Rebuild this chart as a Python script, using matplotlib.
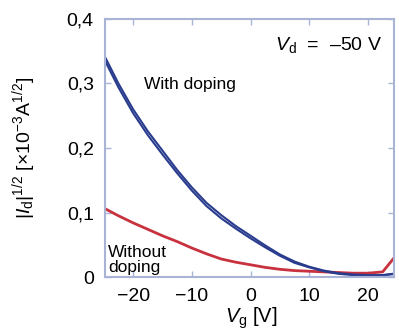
import matplotlib
matplotlib.use('Agg')
import matplotlib.pyplot as plt

plt.rcParams['font.family'] = ['Liberation Sans', 'DejaVu Sans']
plt.rcParams['mathtext.fontset'] = 'custom'
plt.rcParams['mathtext.rm'] = 'Liberation Sans'
plt.rcParams['mathtext.it'] = 'Liberation Sans:italic'

# gate voltage [V]
vg = [-25, -22.5, -20, -17.5, -15, -12.5, -10, -7.5, -5, -2.5, 0,
      2.5, 5, 7.5, 10, 12.5, 15, 17.5, 20, 22.5, 25]
# with doping, two sweeps
doped_fwd = [0.345, 0.300, 0.260, 0.226, 0.196, 0.166, 0.139, 0.115, 0.096, 0.079, 0.064,
             0.049, 0.035, 0.024, 0.016, 0.010, 0.006, 0.004, 0.003, 0.003, 0.006]
doped_rev = [0.339, 0.294, 0.254, 0.220, 0.190, 0.161, 0.134, 0.110, 0.091, 0.075, 0.060,
             0.046, 0.033, 0.022, 0.015, 0.009, 0.005, 0.003, 0.002, 0.003, 0.005]
# without doping
undoped = [0.107, 0.095, 0.084, 0.074, 0.064, 0.055, 0.045, 0.036, 0.028, 0.023, 0.019,
           0.015, 0.012, 0.010, 0.009, 0.008, 0.007, 0.006, 0.006, 0.008, 0.036]

xticks = [-20, -10, 0, 10, 20]
yticks = [0, 0.1, 0.2, 0.3, 0.4]
ytick_labels = ['0', '0,1', '0,2', '0,3', '0,4']

blue = '#2a3c8e'
red = '#c8323e'
frame = '#a8b3d6'

fig = plt.figure(figsize=(3.99, 3.33), dpi=100)
ax = fig.add_axes([0.263, 0.168, 0.724, 0.775])

ax.plot(vg, undoped, color=red, lw=2.0)
ax.plot(vg, doped_fwd, color=blue, lw=1.5)
ax.plot(vg, doped_rev, color=blue, lw=1.5)

ax.set_xlim(-24.8, 24.4)
ax.set_ylim(0, 0.4)
ax.set_xticks(xticks)
ax.set_xticklabels(['\u221220', '\u221210', '0', '10', '20'])
ax.set_yticks(yticks)
ax.set_yticklabels(ytick_labels)
ax.tick_params(direction='in', length=4, width=1, color=frame,
               top=True, right=True, labelsize=14, pad=8)
for s in ax.spines.values():
    s.set_color(frame)
    s.set_linewidth(1.5)

ax.text(-18.1, 0.298, 'With doping', fontsize=12.5, va='center', ha='left')
ax.text(-24.3, 0.003, 'Without\ndoping', fontsize=12.5, va='bottom', ha='left',
        linespacing=1.0)
ax.text(22.4, 0.36, '$V_\\mathrm{d}$  =  \u201350 V', fontsize=14, va='center', ha='right')

fig.text(24 / 399, (333 - 148) / 333, '$|I_\\mathrm{d}|^{1/2}$ [\u00d710$^{-3}$A$^{1/2}$]',
         rotation=90, ha='center', va='center', fontsize=14)
fig.text(251 / 399, (333 - 323) / 333, '$V_\\mathrm{g}$ [V]', ha='center', va='baseline',
         fontsize=14.5)

fig.savefig('out.png', dpi=100)
